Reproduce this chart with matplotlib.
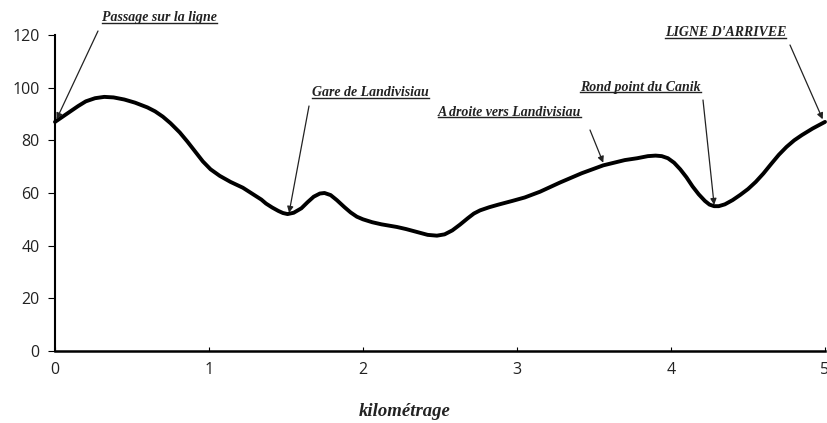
import matplotlib
matplotlib.use("Agg")
import matplotlib.pyplot as plt
from matplotlib.lines import Line2D

# Data
km = [0.00, 0.05, 0.10, 0.15, 0.20, 0.26, 0.32, 0.38, 0.45, 0.52, 0.60, 0.65, 0.70,
      0.75, 0.81, 0.86, 0.90, 0.96, 1.01, 1.07, 1.14, 1.22, 1.26, 1.30, 1.34, 1.37,
      1.41, 1.45, 1.48, 1.51, 1.55, 1.60, 1.64, 1.68, 1.72, 1.75, 1.79, 1.83, 1.88,
      1.92, 1.96, 2.00, 2.06, 2.12, 2.17, 2.22, 2.28, 2.35, 2.42, 2.48, 2.53, 2.58,
      2.63, 2.68, 2.72, 2.76, 2.82, 2.88, 2.97, 3.05, 3.15, 3.28, 3.42, 3.56, 3.63,
      3.70, 3.78, 3.85, 3.90, 3.94, 3.98, 4.02, 4.06, 4.10, 4.14, 4.18, 4.22, 4.25,
      4.28, 4.31, 4.35, 4.40, 4.45, 4.50, 4.55, 4.60, 4.65, 4.70, 4.75, 4.80, 4.85,
      4.92, 5.00]
altitude = [87, 89, 91, 93, 94.8, 96, 96.5, 96.3, 95.5, 94.3, 92.5, 91, 89,
            86.5, 83, 79.5, 76.5, 72, 69, 66.5, 64.2, 62, 60.5, 59, 57.5, 56,
            54.5, 53.2, 52.4, 52, 52.5, 54.2, 56.5, 58.6, 59.8, 60, 59.2, 57.3, 54.6,
            52.6, 51, 50, 48.9, 48.1, 47.6, 47.1, 46.3, 45.2, 44.1, 43.8, 44.3, 45.8,
            48, 50.4, 52.2, 53.4, 54.6, 55.6, 57, 58.3, 60.5, 64, 67.5, 70.5, 71.5,
            72.5, 73.2, 74, 74.2, 74, 73.2, 71.5, 69, 66, 62.5, 59.5, 57, 55.6,
            55, 55, 55.7, 57.3, 59.3, 61.5, 64.2, 67.4, 71, 74.5, 77.5, 80, 82,
            84.5, 87]

x_ticks = [0, 1, 2, 3, 4, 5]
y_ticks = [0, 20, 40, 60, 80, 100, 120]

labels = ["Passage sur la ligne", "Gare de Landivisiau", "A droite vers Landivisiau",
          "Rond point du Canik", "LIGNE D'ARRIVEE"]
label_px = [(102, 18), (312, 93), (438, 112), (580, 87), (665, 33)]   # left, center-y (image px)
arrow_start_px = [(98, 31), (309, 106), (590, 130), (703, 100), (790, 45)]
arrow_tip = [(0.01, 88), (1.52, 52.5), (3.56, 71.5), (4.28, 55.5), (4.985, 88)]

W, H = 827, 423
fig = plt.figure(figsize=(W / 100, H / 100), dpi=100)
ax = fig.add_axes([55 / W, (H - 351) / H, 770 / W, (351 - 35) / H])

ax.plot(km, altitude, color="black", lw=2.8, solid_joinstyle="round",
        solid_capstyle="round", clip_on=False, zorder=3)

ax.set_xlim(0, 5)
ax.set_ylim(0, 120)
ax.set_xticks(x_ticks)
ax.set_yticks(y_ticks)
for s in ["top", "right"]:
    ax.spines[s].set_visible(False)
ax.spines["left"].set_linewidth(1.5)
ax.spines["bottom"].set_linewidth(1.8)
ax.tick_params(axis="y", direction="out", length=5, width=0.8, labelsize=11.5, pad=6)
ax.tick_params(axis="x", direction="in", length=3, width=0.8, labelsize=11.5, pad=8)
for lab in ax.get_xticklabels() + ax.get_yticklabels():
    lab.set_fontfamily("Open Sans")
    lab.set_color("#222222")

fig.text(405 / W, (H - 411) / H, "kilométrage", family="Liberation Serif",
         style="italic", weight="bold", fontsize=13.5, ha="center", va="center",
         color="#222222")

texts = []
for lab, (lx, ly) in zip(labels, label_px):
    t = fig.text(lx / W, (H - ly) / H, lab, family="Liberation Serif", style="italic",
                 weight="bold", fontsize=10, ha="left", va="center", color="#222222")
    texts.append(t)

for (sx, sy), tip in zip(arrow_start_px, arrow_tip):
    ax.annotate("", xy=tip, xycoords="data", xytext=(sx, H - sy),
                textcoords="figure pixels",
                arrowprops=dict(arrowstyle="-|>", lw=0.9, color="#222222",
                                mutation_scale=9, shrinkA=0, shrinkB=0))

fig.canvas.draw()
renderer = fig.canvas.get_renderer()
for t in texts:
    bb = t.get_window_extent(renderer)
    y = bb.y0 + 1.5
    fig.add_artist(Line2D([bb.x0 / W, bb.x1 / W], [y / H, y / H],
                          transform=fig.transFigure, color="#222222", lw=1.0))

fig.savefig("out.png", dpi=100)
